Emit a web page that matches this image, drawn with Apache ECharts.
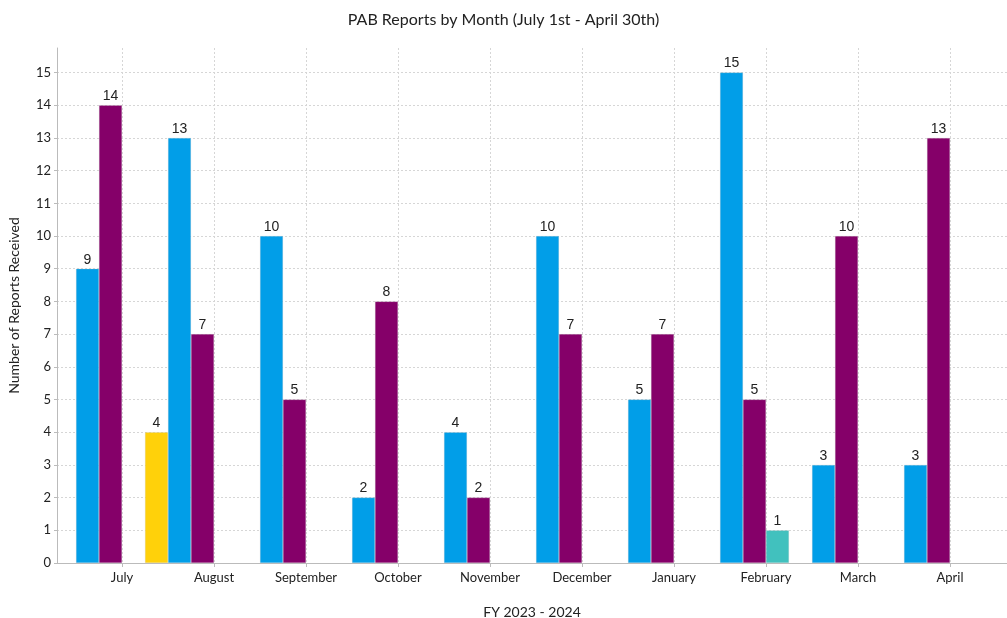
<!DOCTYPE html>
<html>
<head>
<meta charset="utf-8">
<script src="https://cdn.jsdelivr.net/npm/echarts@6/dist/echarts.min.js"></script>
<style>
html,body{margin:0;padding:0;background:#fff;}
#chart{width:1007px;height:618px;}
</style>
</head>
<body>
<div id="chart"></div>
<script>
const months = ['July','August','September','October','November','December','January','February','March','April'];
const seriesBlue = [9, 13, 10, 2, 4, 10, 5, 15, 3, 3];
const seriesPurple = [14, 7, 5, 8, 2, 7, 7, 5, 10, 13];
const seriesTeal = [null, null, null, null, null, null, null, 1, null, null];
const seriesYellow = [4, null, null, null, null, null, null, null, null, null];

const chart = echarts.init(document.getElementById('chart'));
const yMax = 15.75;
const labelStyle = {show: true, position: 'top', distance: 2, color: '#222', fontFamily: 'Liberation Sans', fontSize: 14};
function bar(name, data, color) {
  return {
    name: name, type: 'bar', data: data, xAxisIndex: 1, yAxisIndex: 1,
    barGap: '0%', barCategoryGap: '0%',
    itemStyle: {color: color, borderColor: 'rgba(200,200,200,0.5)', borderWidth: 0.5},
    label: labelStyle
  };
}
chart.setOption({
  animation: false,
  backgroundColor: '#fff',
  title: {
    text: 'PAB Reports by Month (July 1st - April 30th)',
    left: 'center', top: 7,
    textStyle: {fontFamily: 'Lato', fontSize: 16, fontWeight: 'normal', color: '#222'}
  },
  grid: [
    {left: 57, right: 0, top: 48, bottom: 55, outerBoundsMode: 'none', containLabel: false},
    {left: 76, right: 11, top: 48, bottom: 55, outerBoundsMode: 'none', containLabel: false}
  ],
  xAxis: [
    {
      type: 'value', gridIndex: 0, min: 0, max: 1,
      name: 'FY 2023 - 2024', nameLocation: 'middle', nameGap: 42,
      nameTextStyle: {fontFamily: 'Lato', fontSize: 14, color: '#222'},
      axisLine: {show: true, onZero: false, lineStyle: {color: '#bbb', width: 1}},
      axisTick: {show: false}, axisLabel: {show: false}, splitLine: {show: false}
    },
    {
      type: 'category', gridIndex: 1, data: months, boundaryGap: true,
      axisLine: {show: false},
      axisTick: {show: true, alignWithLabel: true, length: 4, lineStyle: {color: '#bbb'}},
      axisLabel: {fontFamily: 'Lato', fontSize: 13, color: '#222', margin: 8},
      splitLine: {show: true, alignWithLabel: true, lineStyle: {color: '#d6d6d6', type: [2, 2], width: 1}}
    }
  ],
  yAxis: [
    {
      type: 'value', gridIndex: 0, min: 0, max: yMax, interval: 1,
      name: 'Number of Reports Received', nameLocation: 'middle', nameGap: 36,
      nameTextStyle: {fontFamily: 'Lato', fontSize: 14, color: '#222'},
      axisLine: {show: true, lineStyle: {color: '#bbb'}},
      axisTick: {show: true, length: 3, lineStyle: {color: '#bbb'}},
      axisLabel: {fontFamily: 'Lato', fontSize: 13, color: '#222', margin: 6, showMaxLabel: false},
      splitLine: {show: true, showMaxLine: false, lineStyle: {color: '#d6d6d6', type: [2, 2], width: 1}}
    },
    {
      type: 'value', gridIndex: 1, min: 0, max: yMax, interval: 1,
      show: false, splitLine: {show: false}
    }
  ],
  series: [
    bar('Blue', seriesBlue, '#019ee8'),
    bar('Purple', seriesPurple, '#850069'),
    bar('Teal', seriesTeal, '#41c1be'),
    bar('Yellow', seriesYellow, '#ffd10a')
  ]
});
</script>
</body>
</html>
